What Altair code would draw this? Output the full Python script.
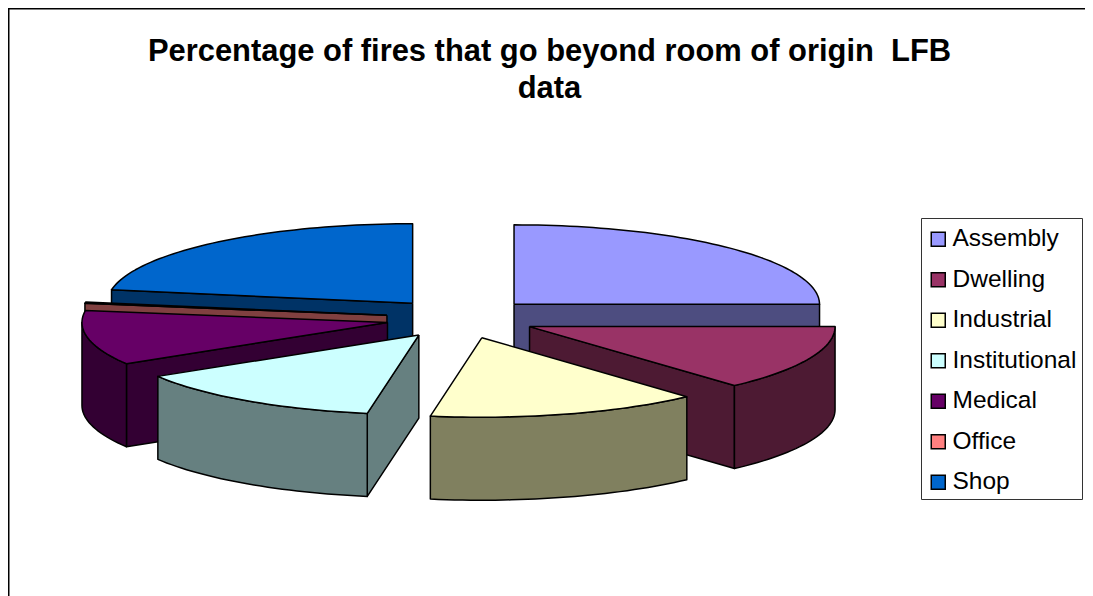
import math
import altair as alt
import pandas as pd

TITLE = ["Percentage of fires that go beyond room of origin \u00a0LFB", "data"]
CATEGORIES = ["Assembly", "Dwelling", "Industrial", "Institutional", "Medical", "Office", "Shop"]
SHARES = [25.0, 13.3, 14.4, 13.6, 11.1, 0.3, 22.3]
TOP_COLORS = ["#9999FF", "#993366", "#FFFFCC", "#CCFFFF", "#660066", "#FF8080", "#0066CC"]
SIDE_COLORS = ["#4D4D80", "#4D1A33", "#80805F", "#668080", "#330033", "#804040", "#003366"]
DRAW_ORDER = ["Shop", "Office", "Medical", "Assembly", "Dwelling", "Institutional", "Industrial"]

# projection of the tilted pie, in page pixels
CX, CY = 461.0, 318.5
RX, RY = 305.5, 79.5
DEPTH = 83.0
EXPLODE_X, EXPLODE_Y = 75.0, 20.0
X0, X1, Y0, Y1 = 8, 1085, 8, 596


def pt(cx, cy, deg, drop=0.0):
    a = math.radians(deg)
    return (cx + RX * math.sin(a), cy - RY * math.cos(a) + drop)


def arc(cx, cy, a0, a1, drop=0.0):
    n = max(2, int(abs(a1 - a0) / 1.5) + 1)
    return [pt(cx, cy, a0 + (a1 - a0) * i / (n - 1), drop) for i in range(n)]


total = sum(SHARES)
spans = {}
acc = 0.0
for name, share in zip(CATEGORIES, SHARES):
    spans[name] = (acc, acc + share / total * 360)
    acc = spans[name][1]

rows = []
counter = [0]


def add(points, fill):
    counter[0] += 1
    pts = list(points) + [points[0]]
    for i, (x, y) in enumerate(pts):
        rows.append({"piece": f"p{counter[0]:03d}", "i": i, "x": x, "y": y, "face": fill})


for name in DRAW_ORDER:
    k = CATEGORIES.index(name)
    a0, a1 = spans[name]
    mid = math.radians((a0 + a1) / 2)
    ax = CX + EXPLODE_X * math.sin(mid)
    ay = CY - EXPLODE_Y * math.cos(mid)
    side, top = SIDE_COLORS[k], TOP_COLORS[k]
    if 180 < a0 < 360:  # cut face at the start of the slice looks at the viewer
        p = pt(ax, ay, a0)
        add([(ax, ay), p, (p[0], p[1] + DEPTH), (ax, ay + DEPTH)], side)
    if 0 < a1 < 180:  # cut face at the end of the slice looks at the viewer
        p = pt(ax, ay, a1)
        add([(ax, ay), p, (p[0], p[1] + DEPTH), (ax, ay + DEPTH)], side)
    w0, w1 = max(a0, 90), min(a1, 270)
    if w1 > w0:  # outer wall
        add(arc(ax, ay, w0, w1) + arc(ax, ay, w1, w0, DEPTH), side)
    add([(ax, ay)] + arc(ax, ay, a0, a1), top)

df = pd.DataFrame(rows)

W, H = X1 - X0, Y1 - Y0
x_enc = alt.X("x:Q", axis=None, scale=alt.Scale(domain=[X0, X1], nice=False, zero=False))
y_enc = alt.Y("y:Q", axis=None, scale=alt.Scale(domain=[Y1, Y0], nice=False, zero=False))

faces = (
    alt.Chart(df)
    .mark_line(stroke="black", strokeWidth=1.5, strokeJoin="round")
    .encode(
        x=x_enc,
        y=y_enc,
        fill=alt.Fill("face:N", scale=None, legend=None),
        detail="piece:N",
        order="i:Q",
    )
)

frame_left = alt.Chart(pd.DataFrame({"a": [0]})).mark_rule(color="black", strokeWidth=2).encode(
    x=alt.value(0.5), y=alt.value(0), y2=alt.value(H)
)
frame_top = alt.Chart(pd.DataFrame({"a": [0]})).mark_rule(color="black", strokeWidth=2).encode(
    y=alt.value(0.5), x=alt.value(0), x2=alt.value(W)
)

legend_df = pd.DataFrame({"category": CATEGORIES})
legend_layer = (
    alt.Chart(legend_df)
    .mark_square(size=0)
    .encode(
        color=alt.Color(
            "category:N",
            scale=alt.Scale(domain=CATEGORIES, range=TOP_COLORS),
            sort=CATEGORIES,
            legend=alt.Legend(
                title=" ",
                titleFontSize=4,
                titlePadding=0,
                orient="none",
                legendX=913,
                legendY=210,
                symbolType="square",
                symbolSize=196,
                symbolStrokeColor="black",
                symbolStrokeWidth=1.5,
                symbolOpacity=1,
                labelFontSize=24.5,
                labelFont="Liberation Sans",
                labelColor="black",
                labelOffset=2,
                rowPadding=15.5,
                padding=5,
                strokeColor="#333333",
                fillColor="white",
                labelLimit=200,
            ),
        )
    )
)

chart = (
    alt.layer(frame_left, frame_top, faces, legend_layer)
    .properties(
        width=W,
        height=H,
        padding=0,
        autosize=alt.AutoSizeParams(type="none"),
        background="white",
        title=alt.TitleParams(
            text=TITLE,
            anchor="middle",
            frame="group",
            font="Liberation Sans",
            fontSize=30.9,
            fontWeight="bold",
            color="black",
            baseline="top",
            lineHeight=37,
            dy=97.5,
            dx=3,
            offset=0,
        ),
    )
    .configure_view(stroke=None)
)

chart.save("out.html", embed_options={"renderer": "svg", "actions": False})
